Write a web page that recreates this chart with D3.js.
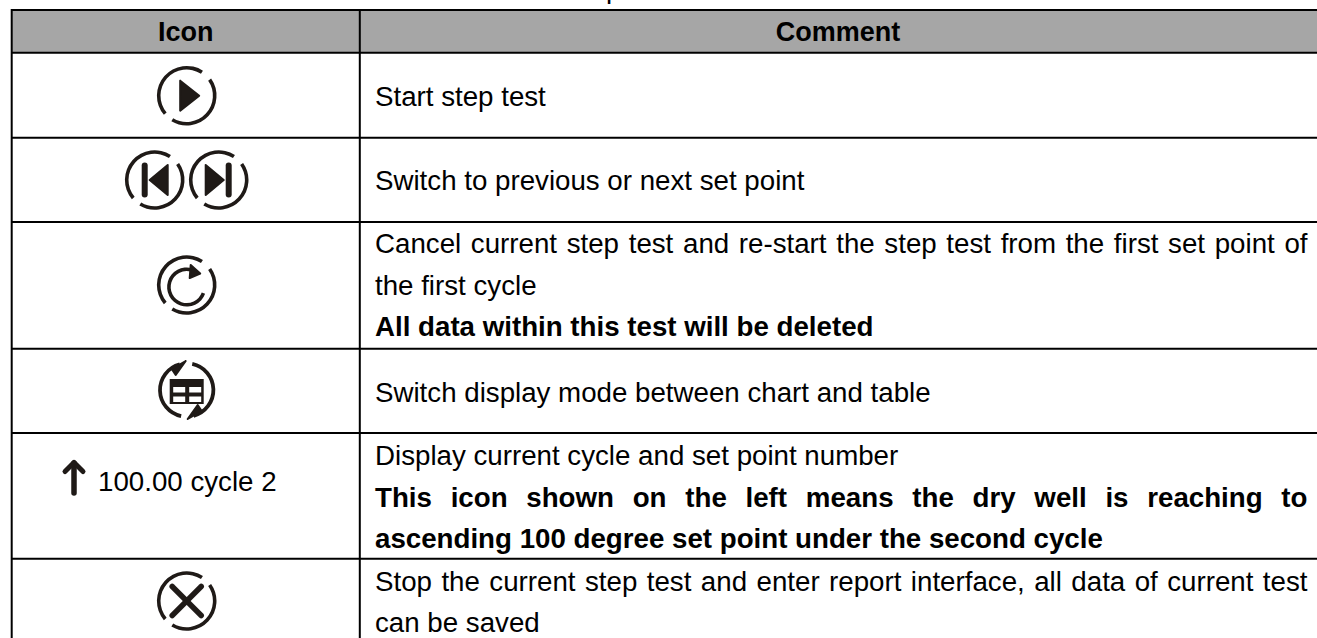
<!DOCTYPE html>
<html>
<head>
<meta charset="utf-8">
<script src="https://cdn.jsdelivr.net/npm/d3@7"></script>
<style>
	html, body { margin: 0; padding: 0; background: #fff; overflow: hidden; }
	svg { display: block; }
	text { font-family: "Liberation Sans", Arial, sans-serif; fill: #000; }
</style>
</head>
<body>
<svg id="chart" width="1317" height="638"></svg>
<script>
// table content
var columns = ["Icon", "Comment"];
var icons = ["play", "skip", "restart", "mode", "cycle", "stop"];
var iconLabel = "100.00 cycle 2";
var commentLines = [
	["Start step test"],
	["Switch to previous or next set point"],
	["Cancel current step test and re-start the step test from the first set point of", "the first cycle", "All data within this test will be deleted"],
	["Switch display mode between chart and table"],
	["Display current cycle and set point number", "This icon shown on the left means the dry well is reaching to", "ascending 100 degree set point under the second cycle"],
	["Stop the current step test and enter report interface, all data of current test", "can be saved"]
];
var boldLines = ["All data within this test will be deleted", "This icon shown on the left means the dry well is reaching to", "ascending 100 degree set point under the second cycle"];
var justifiedLines = [commentLines[2][0], commentLines[4][1], commentLines[5][0]];

// layout
var width = 1317, height = 638,
	ink = "#1f1a17",
	bodySize = 27.7,
	leftX = 11.7, splitX = 359.8, textX = 375, textRight = 1307.5,
	iconX = 186.7, commentX = 838,
	rowLines = [10, 52.7, 137.7, 222, 348.7, 433, 558.7],
	rowIndex = d3.range(rowLines.length),
	lineY = d3.scaleOrdinal().domain(rowIndex).range(rowLines),
	firstBaseline = [106, 190, 253, 401.5, 465, 590.5],
	lineStep = 41.5,
	iconY = [95.7, 180, 285, 390, 478, 601];

var svg = d3.select("#chart");

svg.append("text").attr("x", 606).attr("y", -2.5).attr("font-size", bodySize).text("p");

svg.append("rect")
	.attr("x", leftX).attr("y", lineY(0))
	.attr("width", width - leftX).attr("height", lineY(1) - lineY(0))
	.attr("fill", "#a6a6a6");

svg.selectAll(".hline").data(rowIndex).enter().append("line")
	.attr("class", "hline")
	.attr("x1", leftX).attr("x2", width)
	.attr("y1", d => lineY(d)).attr("y2", d => lineY(d))
	.attr("stroke", "#000").attr("stroke-width", 2);

svg.selectAll(".vline").data([leftX, splitX]).enter().append("line")
	.attr("class", "vline")
	.attr("x1", d => d).attr("x2", d => d)
	.attr("y1", lineY(0) - 1).attr("y2", height)
	.attr("stroke", "#000").attr("stroke-width", 2);

svg.selectAll(".head").data(columns).enter().append("text")
	.attr("class", "head")
	.attr("x", (d, i) => i ? commentX : iconX - 1)
	.attr("y", 41)
	.attr("text-anchor", "middle")
	.attr("font-size", 27)
	.attr("font-weight", "bold")
	.text(d => d);

// comment text, one group per row
var rows = svg.selectAll(".row").data(commentLines).enter().append("g").attr("class", "row");
rows.each(function (lines, r) {
	d3.select(this).selectAll("text").data(lines).enter().append("text")
		.attr("x", textX)
		.attr("y", (d, i) => firstBaseline[r] + i * lineStep)
		.attr("font-size", bodySize)
		.attr("font-weight", d => boldLines.includes(d) ? "bold" : "normal")
		.text(d => d)
		.each(function (d) {
			if (!justifiedLines.includes(d)) return;
			var gaps = d.split(" ").length - 1;
			var extra = (textRight - textX - this.getComputedTextLength()) / gaps;
			d3.select(this).attr("word-spacing", extra);
		});
});

// icon glyphs
var rad = deg => deg * Math.PI / 180;
var ringArc = d3.arc().innerRadius(26.2).outerRadius(29.8);

function ring(g, dx) {
	g.selectAll(null).data([[55, 211], [230, 393]]).enter().append("path")
		.attr("transform", "translate(" + dx + ",0)")
		.attr("d", d => ringArc({ startAngle: rad(d[0]), endAngle: rad(d[1]) }))
		.attr("fill", ink);
}

function poly(g, pts, sw) {
	return g.append("path")
		.attr("d", d3.line()(pts))
		.attr("fill", "none")
		.attr("stroke", ink)
		.attr("stroke-width", sw)
		.attr("stroke-linecap", "round")
		.attr("stroke-linejoin", "round");
}

function solid(g, pts) {
	return poly(g, pts.concat([pts[0]]), 2).attr("fill", ink);
}

var drawIcon = {
	play: function (g) {
		ring(g, 0);
		solid(g, [[-6.5, -15], [12.5, 0], [-6.5, 15]]);
	},
	skip: function (g) {
		var cx = 32;
		ring(g, -cx);
		ring(g, cx);
		poly(g, [[-cx - 10, -14.5], [-cx - 10, 14.5]], 6);
		solid(g, [[-cx - 5, 0], [-cx + 13, -15], [-cx + 13, 15]]);
		poly(g, [[cx + 10, -14.5], [cx + 10, 14.5]], 6);
		solid(g, [[cx + 5, 0], [cx - 13, -15], [cx - 13, 15]]);
	},
	restart: function (g) {
		ring(g, 0);
		g.append("path")
			.attr("transform", "translate(0,2)")
			.attr("d", d3.arc().innerRadius(16).outerRadius(19.6)({ startAngle: rad(110), endAngle: rad(376) }))
			.attr("fill", ink);
		solid(g, [[4, -20], [13.5, -11.5], [3, -7]]);
	},
	mode: function (g) {
		var arc = d3.arc().innerRadius(24.8).outerRadius(28.6);
		g.selectAll(null).data([[12, 165], [192, 345]]).enter().append("path")
			.attr("d", d => arc({ startAngle: rad(d[0]), endAngle: rad(d[1]) }))
			.attr("fill", ink);
		solid(g, [[-1, -29], [-15, -21], [-11, -15]]);
		solid(g, [[1, 29], [15, 21], [11, 15]]);
		g.append("rect").attr("x", -17).attr("y", -11).attr("width", 34).attr("height", 25).attr("fill", ink);
		g.selectAll(null).data([[-13.5, -3], [2.5, -3], [-13.5, 6.5], [2.5, 6.5]]).enter().append("rect")
			.attr("x", d => d[0]).attr("y", d => d[1])
			.attr("width", 12).attr("height", 5.5)
			.attr("fill", "#fff");
	},
	cycle: function (g) {
		var a = g.append("g").attr("transform", "translate(-112.7,0)");
		poly(a, [[0, -15], [0, 15]], 5.5);
		poly(a, [[-9, -6.5], [0, -15.5], [9, -6.5]], 5);
		g.append("text")
			.attr("x", 98 - iconX).attr("y", 12.7)
			.attr("font-size", bodySize)
			.text(iconLabel);
	},
	stop: function (g) {
		ring(g, 0);
		poly(g, [[-14.5, -14.5], [14.5, 14.5]], 5.5);
		poly(g, [[-14.5, 14.5], [14.5, -14.5]], 5.5);
	}
};

svg.selectAll(".icon").data(icons).enter().append("g")
	.attr("class", "icon")
	.attr("transform", (d, i) => "translate(" + iconX + "," + iconY[i] + ")")
	.each(function (d) { drawIcon[d](d3.select(this)); });
</script>
</body>
</html>
